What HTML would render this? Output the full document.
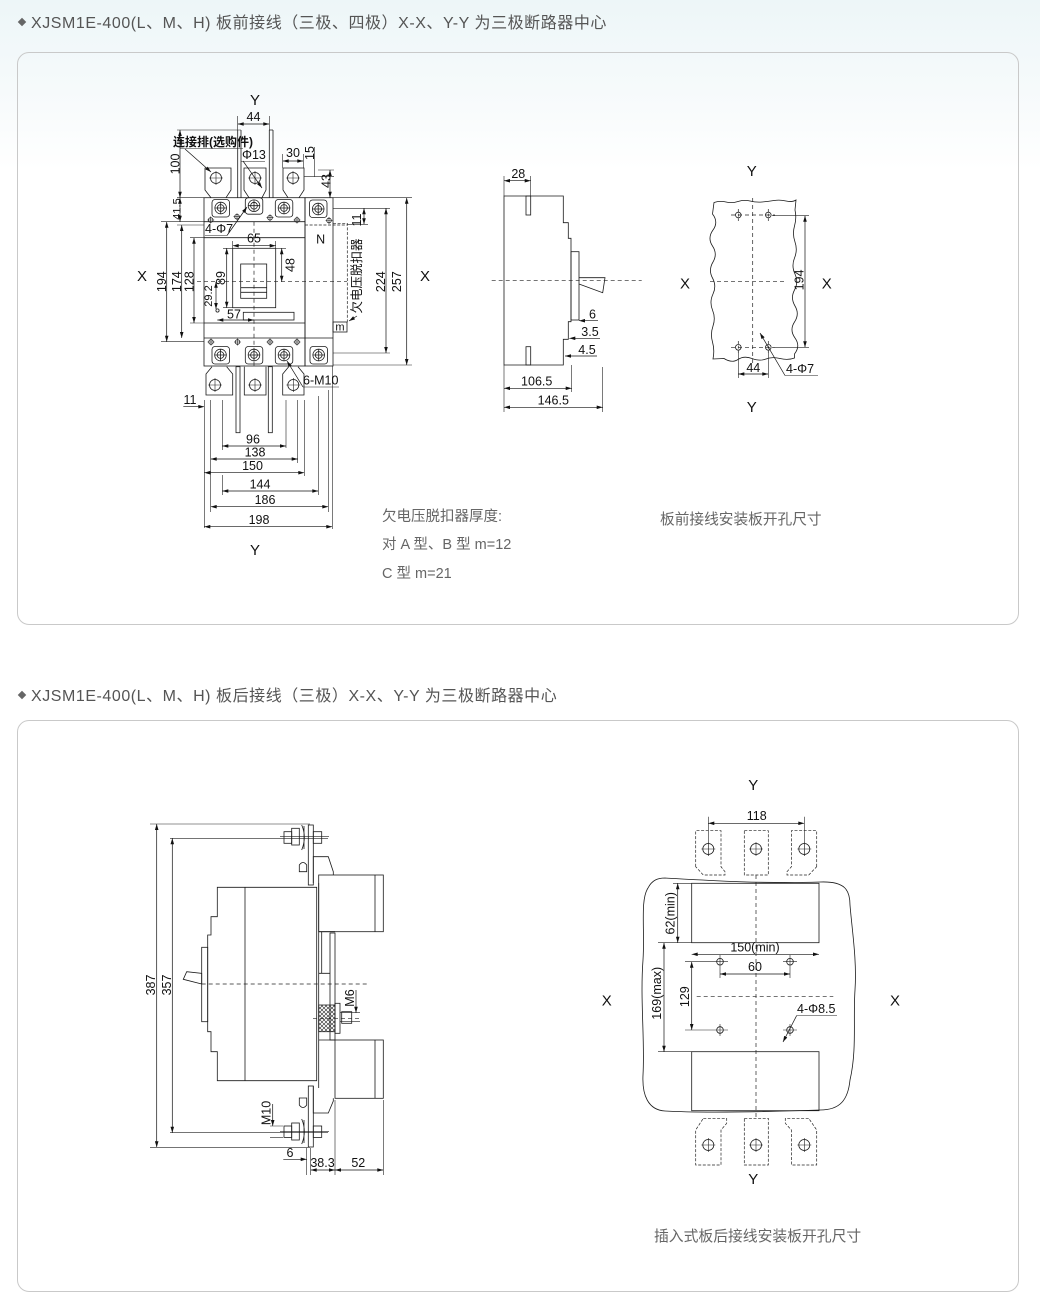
<!DOCTYPE html>
<html><head><meta charset="utf-8">
<style>
html,body{margin:0;padding:0}
body{width:1040px;height:1303px;position:relative;overflow:hidden;background:linear-gradient(#edf6f8 0px,#f6fafb 90px,#ffffff 170px);font-family:"Liberation Sans","Noto Sans CJK SC",sans-serif}
.h{position:absolute;left:18px;font-size:16px;color:#555;white-space:nowrap;letter-spacing:0.55px}
.h b{display:inline-block;width:6px;height:6px;background:#666;transform:rotate(45deg);margin:0 6px 3px 1px;vertical-align:middle}
.p{position:absolute;left:16.5px;width:1002px;border:1px solid #c9c9c9;border-radius:12px;box-sizing:border-box}
.c{position:absolute;font-size:15px;color:#666;white-space:nowrap}
svg{position:absolute;left:0;top:0}
.l{stroke:#1a1a1a;stroke-width:0.8;fill:none}
.f{stroke:#1a1a1a;stroke-width:0.8;fill:#fff}
.d{stroke:#222;stroke-width:0.7;fill:none;stroke-dasharray:4 3}
.dt{stroke:#222;stroke-width:0.7;fill:none;stroke-dasharray:3 1.6}
.m{stroke:#111;stroke-width:0.7;fill:none;marker-start:url(#a);marker-end:url(#a)}
.me{stroke:#111;stroke-width:0.7;fill:none;marker-end:url(#a)}
.ms{stroke:#111;stroke-width:0.7;fill:none;marker-start:url(#a)}
.e{stroke:#222;stroke-width:0.6;fill:none}
text{font-family:"Liberation Sans","Noto Sans CJK SC",sans-serif;font-size:12.5px;fill:#111}
.t{text-anchor:middle}
.b{font-size:15px;text-anchor:middle}
</style></head><body>

<div class="h" style="top:9px"><b></b>XJSM1E-400(L、M、H) 板前接线（三极、四极）X-X、Y-Y 为三极断路器中心</div>
<div class="p" style="top:52px;height:573px"></div>
<div class="h" style="top:682px"><b></b>XJSM1E-400(L、M、H) 板后接线（三极）X-X、Y-Y 为三极断路器中心</div>
<div class="p" style="top:720px;height:572px"></div>

<div class="c" style="left:382px;top:505px;font-size:14.5px">欠电压脱扣器厚度:</div>
<div class="c" style="left:382px;top:533px;font-size:14.5px">对 A 型、B 型 m=12</div>
<div class="c" style="left:382px;top:562px;font-size:14.5px">C 型 m=21</div>
<div class="c" style="left:660px;top:508px;font-size:14.7px">板前接线安装板开孔尺寸</div>
<div class="c" style="left:654px;top:1225px;font-size:14.8px">插入式板后接线安装板开孔尺寸</div>

<svg width="1040" height="1303" viewBox="0 0 1040 1303">
<defs>
<marker id="a" viewBox="0 0 10 6" refX="10" refY="3" markerWidth="7" markerHeight="3.6" markerUnits="userSpaceOnUse" orient="auto-start-reverse"><path d="M0,0 L10,3 L0,6z" fill="#111"/></marker>
<g id="sc"><circle r="5.8" class="l"/><circle r="3.4" class="l"/><path d="M-5.5,0H5.5M0,-5.5V5.5" class="l"/></g>
<g id="sd"><circle r="2.3" class="l"/><path d="M-3.5,0H3.5M0,-3.5V3.5" class="e"/></g>
<g id="ci"><circle r="5.5" class="l"/><path d="M-7,0H7M0,-7V7" class="e"/></g>
<g id="hl"><circle r="2.8" class="l"/></g>
<pattern id="hx" width="4" height="4" patternUnits="userSpaceOnUse"><path d="M0,0L4,4M4,0L0,4" stroke="#222" stroke-width="0.6"/></pattern>
</defs>

<!-- ============ TOP-LEFT FRONT VIEW ============ -->
<text x="255" y="105" class="b">Y</text>
<text x="142" y="281" class="b">X</text>
<text x="425" y="281" class="b">X</text>
<text x="255" y="555" class="b">Y</text>

<path d="M237.7,116V130M269.3,116V130" class="e"/>
<path d="M237.7,124H269.3" class="m"/>
<text x="253.5" y="121" class="t">44</text>

<path d="M237.7,130V197.7M241,130V197.7M269.3,130V197.7M273,130V197.7M269.3,130H273" class="l"/>
<path d="M177,130H241" class="e"/>

<path d="M211,197.7L205,190V168H231V190L226,197.7" class="l"/>
<path d="M249,197.7L244,190V168H266V190L262,197.7" class="l"/>
<path d="M288,197.7L283,190V168H304V190L299,197.7" class="l"/>
<use href="#ci" x="216" y="178"/><use href="#ci" x="255" y="178"/><use href="#ci" x="293" y="178"/>

<text x="173" y="146" style="font-size:12px;font-weight:bold">连接排(选购件)</text>
<path d="M180,148.5H243" class="e"/>
<path d="M185,149L211,172" class="me"/>
<text x="242" y="159">Φ13</text>
<path d="M241,161.5H265" class="e"/>
<path d="M243,161L262,188" class="me"/>
<path d="M282.7,154V168M303.3,154V168" class="e"/>
<path d="M282.7,161H303.3" class="m"/>
<text x="293" y="157" class="t">30</text>
<path d="M314.5,147V177M304,176.7H334M318,170H334" class="e"/>
<text transform="translate(314,153) rotate(-90)" class="t">15</text>
<path d="M330,170V197.7" class="m"/>
<text transform="translate(330.5,181) rotate(-90)" class="t">43</text>

<rect x="204" y="197.7" width="101" height="168.3" class="l"/>
<rect x="305" y="197.7" width="28" height="168.3" class="l"/>
<path d="M204,221.7H305M204,237.7H305M204,323H305M204,338H333" class="l"/>
<path d="M305,225H347.3" class="dt"/>
<rect x="212" y="199.5" width="17.5" height="17.5" rx="3" class="l"/>
<rect x="245.3" y="197.7" width="17.5" height="16.5" rx="3" class="l"/>
<rect x="275.3" y="199.5" width="17.5" height="17.5" rx="3" class="l"/>
<rect x="309.5" y="200" width="17.5" height="17.5" rx="3" class="l"/>
<use href="#sc" x="220.7" y="208"/><use href="#sc" x="254" y="205.7"/><use href="#sc" x="284" y="208"/><use href="#sc" x="318.2" y="209"/>
<use href="#sd" x="210.7" y="220"/><use href="#sd" x="237" y="216.7"/><use href="#sd" x="270" y="217.7"/><use href="#sd" x="297" y="220"/><use href="#sd" x="329" y="220.5"/>
<rect x="212" y="346.5" width="17.5" height="17.5" rx="3" class="l"/>
<rect x="245.3" y="346.5" width="17.5" height="17.5" rx="3" class="l"/>
<rect x="275.3" y="346.5" width="17.5" height="17.5" rx="3" class="l"/>
<rect x="310" y="346.5" width="17.5" height="17.5" rx="3" class="l"/>
<use href="#sc" x="220.5" y="355"/><use href="#sc" x="254" y="355"/><use href="#sc" x="284" y="355"/><use href="#sc" x="318.7" y="355"/>
<use href="#sd" x="211" y="342"/><use href="#sd" x="237.5" y="342"/><use href="#sd" x="270" y="342"/><use href="#sd" x="297" y="342"/>

<rect x="232.7" y="248.3" width="43" height="59.4" class="l"/>
<rect x="240.7" y="264" width="26" height="34.3" class="l"/>
<path d="M240.7,287.7H266.7M240.7,292.3H266.7" class="l"/>
<rect x="243.3" y="312.3" width="50.7" height="7.7" class="l"/>
<text x="320.7" y="243.5" class="t">N</text>

<path d="M254,221.7V366" class="d"/>
<path d="M197,281.7H347" class="d"/>

<path d="M232.7,241V248.3M275.7,241V248.3" class="e"/>
<path d="M232.7,245.7H275.7" class="m"/>
<text x="254" y="242.5" class="t">65</text>
<path d="M223,248.3H232.7M223,307.7H232.7" class="e"/>
<path d="M226.7,248.3V307.7" class="m"/>
<text transform="translate(225,278) rotate(-90)" class="t">89</text>
<path d="M275.7,248.3H286" class="e"/>
<path d="M281.7,248.3V281.7" class="m"/>
<text transform="translate(294.5,265) rotate(-90)" class="t">48</text>
<path d="M216,281.7V309" class="m"/>
<circle cx="217.5" cy="310.5" r="1.6" class="l"/>
<text transform="translate(212,296) rotate(-90)" class="t" style="font-size:11px">29.2</text>
<path d="M217.3,320H254" class="m"/>
<text x="234" y="318.5" class="t">57</text>
<text x="205" y="233">4-Φ7</text>
<path d="M205,235.5H227" class="e"/>
<path d="M227,235.5L247,207" class="me"/>

<path d="M333,223.3H347.3V322.3" class="dt"/>
<text transform="translate(361,276) rotate(-90)" class="t" style="font-size:12.5px">欠电压脱扣器</text>
<path d="M357,316L349,321" class="me"/>
<rect x="333" y="322" width="14" height="10" class="l"/>
<text x="340" y="330.5" class="t" style="font-size:11px">m</text>
<path d="M333,208.3H368M347.3,224.3H368" class="e"/>
<path d="M364,208.3V224.3" class="m"/>
<text transform="translate(361,220) rotate(-90)" class="t">11</text>
<path d="M368,208.3H390M333,353H390M333,197.7H412M333,365H412" class="e"/>
<path d="M386,208.3V353" class="m"/>
<text transform="translate(385,281.7) rotate(-90)" class="t">224</text>
<path d="M406.7,197.7V365" class="m"/>
<text transform="translate(401,281.7) rotate(-90)" class="t">257</text>

<path d="M180,130V197.7" class="m"/>
<text transform="translate(179.5,164) rotate(-90)" class="t">100</text>
<path d="M177,197.7H204M161,221.7H204M161,341.7H204M177,225H204M190,237.7H204M190,323H204" class="e"/>
<path d="M180,197.7V221.7" class="m"/>
<text transform="translate(180.5,209) rotate(-90)" class="t" style="font-size:11px">41.5</text>
<path d="M166.7,221.7V341.7" class="m"/>
<text transform="translate(166,281.7) rotate(-90)" class="t">194</text>
<path d="M181.7,225V338" class="m"/>
<text transform="translate(181,281.7) rotate(-90)" class="t">174</text>
<path d="M194,237.7V323" class="m"/>
<text transform="translate(193.6,281.7) rotate(-90)" class="t">128</text>

<path d="M212,366.7L206,374V395H232.7V374L226.7,366.7" class="l"/>
<path d="M244.3,366.7V395H266V366.7" class="l"/>
<path d="M288.7,366.7L282.7,374V395H304V374L298,366.7" class="l"/>
<rect x="236" y="366.7" width="4" height="66" class="l"/>
<rect x="268.3" y="366.7" width="4" height="66" class="l"/>
<use href="#ci" x="215" y="385"/><use href="#ci" x="255" y="385"/><use href="#ci" x="293.3" y="385"/>
<text x="303" y="384.5">6-M10</text>
<path d="M303,387H339" class="e"/>
<path d="M303,387L287,361" class="me"/>
<path d="M183.3,406.7H204.3" class="me"/>
<text x="190" y="404" class="t">11</text>
<path d="M204.3,400V528M210.7,400V512M222.3,400V450M222.3,475V495M286,400V448M297.7,400V463M304.3,400V476M318.3,396V495M328.3,390V512M332.3,366V529" class="e"/>
<path d="M222.3,446H286" class="m"/><text x="253" y="443.5" class="t">96</text>
<path d="M210.7,459H297.7" class="m"/><text x="255" y="456.5" class="t">138</text>
<path d="M204.3,472.7H304.3" class="m"/><text x="252.5" y="470.2" class="t">150</text>
<path d="M222.3,491H318.3" class="m"/><text x="260" y="488.5" class="t">144</text>
<path d="M210.7,506.7H328.3" class="m"/><text x="265" y="504.2" class="t">186</text>
<path d="M204.3,526.7H332.3" class="m"/><text x="259" y="524.2" class="t">198</text>

<!-- ============ SIDE VIEW ============ -->
<path d="M504,196H563.3V222.7H568.3V238.3H571V321.7H568.3V339.3H563.3V365H504Z" class="l"/>
<rect x="571" y="251.7" width="8" height="68.3" class="l"/>
<path d="M579,277.7H605L602.7,292.7L579,284" class="l"/>
<rect x="526" y="196" width="4.7" height="19" class="l"/>
<rect x="526" y="346.7" width="4.7" height="18.3" class="l"/>
<path d="M491.7,280.7H641.7" class="d"/>
<path d="M504,176V196M530.7,176V196" class="e"/>
<path d="M504,180.7H530.7" class="m"/>
<text x="518.3" y="178" class="t">28</text>
<path d="M579,320.7H598" class="ms"/><text x="592.5" y="318.5" class="t">6</text>
<path d="M569.3,338.3H600" class="ms"/><text x="590" y="336" class="t">3.5</text>
<path d="M565,356H597" class="ms"/><text x="587" y="354" class="t">4.5</text>
<path d="M504,365V412M571.7,365V392M602.7,367V412" class="e"/>
<path d="M504,388.3H571.7" class="m"/><text x="536.7" y="385.5" class="t">106.5</text>
<path d="M504,407.3H602.7" class="m"/><text x="553.3" y="404.5" class="t">146.5</text>

<!-- ============ PANEL CUTOUT (front) ============ -->
<path d="M714,202.5 Q720,200.5 726,202 T738,201.5 T750,201 T762,202 T774,200.5 T786,201 T796,200 L795,210 Q796.8,218 794.5,226 T795,242 T794.5,258 T795,274 T794.5,290 T795,306 T794.5,322 T795,338 T794.5,354 L794.5,358 Q788,360.5 780,358.5 T766,359 T752,358.5 T738,359.5 T724,358.5 L713,359 Q714.8,350 712.5,342 T713,326 T712.5,310 T713,294 T712.5,278 T713,262 T712.5,246 T713,230 T712.5,214 Z" class="l"/>
<path d="M752.7,198V363" class="d"/>
<path d="M710,281.7H786.7" class="d"/>
<path d="M731,215H775M731,347.3H775" class="d"/>
<path d="M738.3,209V221M768.3,209V221M738.3,341V353M768.3,341V353" class="dt"/>
<use href="#hl" x="738.3" y="215"/><use href="#hl" x="768.3" y="215"/><use href="#hl" x="738.3" y="347.3"/><use href="#hl" x="768.3" y="347.3"/>
<path d="M772,215.7H809M772,347.3H809" class="e"/>
<path d="M805,215.7V347.3" class="m"/>
<text transform="translate(803.5,280) rotate(-90)" class="t">194</text>
<path d="M738.3,351V378M768.3,351V378" class="e"/>
<path d="M738.3,374H768.3" class="m"/>
<text x="753.3" y="372" class="t">44</text>
<text x="786" y="373">4-Φ7</text>
<path d="M785,375.5H818" class="e"/>
<path d="M785,375.5L760,333" class="me"/>
<text x="751.7" y="176" class="b">Y</text>
<text x="751.7" y="412" class="b">Y</text>
<text x="685" y="288.5" class="b">X</text>
<text x="826.7" y="288.5" class="b">X</text>

<!-- ============ REAR VIEW (bottom-left) ============ -->
<path d="M150,824H310M170,838.3H328M170,1132.7H328M150,1147.3H310" class="e"/>
<path d="M156.7,824V1147.3" class="m"/>
<text transform="translate(155,985) rotate(-90)" class="t">387</text>
<path d="M172.3,838.3V1132.7" class="m"/>
<text transform="translate(171,985) rotate(-90)" class="t">357</text>

<path d="M316.7,887.3H217.3V916.7H211V935H207.7V1031.7H211V1051.7H217.3V1080.7H316.7Z" class="l"/>
<rect x="201.7" y="947.3" width="6" height="74.4" class="l"/>
<path d="M245,887.3V1080.7" class="l"/>
<path d="M183.3,979.3L186.7,971.7L201.7,973.3V984Z" class="l"/>
<path d="M201.7,984H366.7" class="d"/>
<path d="M318.7,883V1088" class="l"/>
<rect x="318.7" y="875" width="64.6" height="56.7" class="l"/>
<path d="M375,875V931.7" class="l"/>
<path d="M318.7,931.7H335M321.7,931.7V973.3M318.7,973.3H330" class="l"/>
<rect x="330" y="933" width="5" height="107" class="l"/>
<rect x="335" y="1040" width="48.3" height="58.3" class="l"/>
<path d="M375,1040V1098.3M318.7,1040H335" class="l"/>
<path d="M313.3,883V856.7H328.3L333.3,871.7V875" class="l"/>
<path d="M313.3,1086V1113H328.3L333.3,1101V1098.3" class="l"/>
<path d="M280,836.7H329" class="e"/>
<rect x="284" y="831.7" width="7.7" height="11.6" class="l"/>
<rect x="291.7" y="828.3" width="7.6" height="16.7" class="l"/>
<path d="M301.7,825Q307,837 301.7,850M304,826V849" class="l"/>
<rect x="308.3" y="825" width="5" height="60" class="l"/>
<rect x="313.3" y="831.7" width="8.4" height="11.6" class="l"/>
<path d="M299.3,871.7V865Q303,860 306.7,865V871.7Z" class="l"/>
<path d="M280,1131.7H329" class="e"/>
<rect x="284" y="1126" width="7.7" height="11.4" class="l"/>
<rect x="291.7" y="1123" width="7.6" height="17" class="l"/>
<path d="M301.7,1119Q307,1131.7 301.7,1144M304,1120V1143" class="l"/>
<rect x="308.3" y="1086" width="5" height="61" class="l"/>
<rect x="313.3" y="1126" width="8.4" height="11.4" class="l"/>
<path d="M299.3,1098V1105Q303,1110 306.7,1105V1098Z" class="l"/>
<rect x="318.7" y="1005" width="16.3" height="26.7" fill="url(#hx)" stroke="#222" stroke-width="0.8"/>
<rect x="335" y="1003.3" width="5" height="30" class="l"/>
<rect x="341.7" y="1011.7" width="10" height="11.6" class="l"/>
<path d="M313,1018.3H360" class="d"/>
<path d="M340,1012.7H360M340,1021.7H360" class="e"/>
<path d="M356,990V1012.7" class="me"/>
<text transform="translate(354,998) rotate(-90)" class="t">M6</text>
<path d="M270,1126H283M270,1137.3H283" class="e"/>
<path d="M272.7,1104V1126" class="me"/>
<text transform="translate(270.5,1113) rotate(-90)" class="t">M10</text>
<path d="M306.7,1148V1175M310.7,1148V1175M335,1100V1175M383.3,1100V1175" class="e"/>
<path d="M283.3,1159.3H306.7" class="me"/>
<text x="290" y="1157" class="t">6</text>
<path d="M310.7,1170H335" class="m"/>
<text x="322.5" y="1167" class="t">38.3</text>
<path d="M335,1170H383.3" class="m"/>
<text x="358.3" y="1167" class="t">52</text>

<!-- ============ REAR CUTOUT (bottom-right) ============ -->
<text x="753.3" y="790" class="b">Y</text>
<text x="753.3" y="1184" class="b">Y</text>
<text x="606.7" y="1005.5" class="b">X</text>
<text x="895" y="1005.5" class="b">X</text>
<path d="M708.3,816.7V856M804.3,816.7V856" class="e"/>
<path d="M708.3,823.3H804.3" class="m"/>
<text x="756.7" y="820" class="t">118</text>
<path d="M695.7,866.7V830.7H721V866.7L725,871.7V875H703.3Z" class="dt"/>
<path d="M744.3,830.7H768.3V875H744.3Z" class="dt"/>
<path d="M816.7,866.7V830.7H791.4V866.7L787,871.7V875H808.7Z" class="dt"/>
<path d="M703.3,1118.3H726.7V1123.3L721,1130V1165H695.7V1130Z" class="dt"/>
<path d="M744.3,1118.3H768.3V1165H744.3Z" class="dt"/>
<path d="M808.7,1118.3H785.3V1123.3L791.4,1130V1165H816.7V1130Z" class="dt"/>
<use href="#ci" x="708.3" y="849"/><use href="#ci" x="756" y="849"/><use href="#ci" x="804.3" y="849"/>
<use href="#ci" x="708.3" y="1145"/><use href="#ci" x="756" y="1145"/><use href="#ci" x="804.3" y="1145"/>
<path d="M665,878 C700,880 760,884 820,882 C845,881 850,890 850,905 C852,930 857,960 855,990 C853,1020 857,1050 850,1080 C848,1100 840,1110 820,1110 C760,1112 700,1113 665,1111 C648,1110 642,1095 643,1075 C645,1040 640,1000 643,960 C645,930 640,900 648,888 C652,880 658,878 665,878 Z" class="l"/>
<rect x="691.7" y="883.3" width="127.3" height="59.4" class="l"/>
<rect x="691.7" y="1051.7" width="127.3" height="59" class="l"/>
<path d="M756,875V1118" class="d"/>
<path d="M696.7,996.7H833.3" class="d"/>
<path d="M673,883.3H691.7M658,942.7H691.7M658,1051.7H691.7" class="e"/>
<path d="M677.7,883.3V942.7" class="m"/>
<text transform="translate(674.5,913.3) rotate(-90)" class="t">62(min)</text>
<path d="M664,942.7V1051.7" class="m"/>
<text transform="translate(661,993.3) rotate(-90)" class="t">169(max)</text>
<path d="M691.7,954.3H819" class="m"/>
<text x="755" y="951.5" class="t">150(min)</text>
<path d="M685,961.7H728M685,1030H728M783,961.7H797M783,1030H797M720,955V978M790,955V978M720,1024V1036M790,1024V1036" class="e"/>
<circle cx="720" cy="961.7" r="3.3" class="l"/><circle cx="790" cy="961.7" r="3.3" class="l"/>
<circle cx="720" cy="1030" r="3.3" class="l"/><circle cx="790" cy="1030" r="3.3" class="l"/>
<path d="M720,974H790" class="m"/>
<text x="755" y="971" class="t">60</text>
<path d="M691.7,961.7V1030" class="m"/>
<text transform="translate(689,996.7) rotate(-90)" class="t">129</text>
<text x="797" y="1013">4-Φ8.5</text>
<path d="M796.7,1015.5H837" class="e"/>
<path d="M796.7,1015.5L783,1042" class="me"/>
</svg>
</body></html>
